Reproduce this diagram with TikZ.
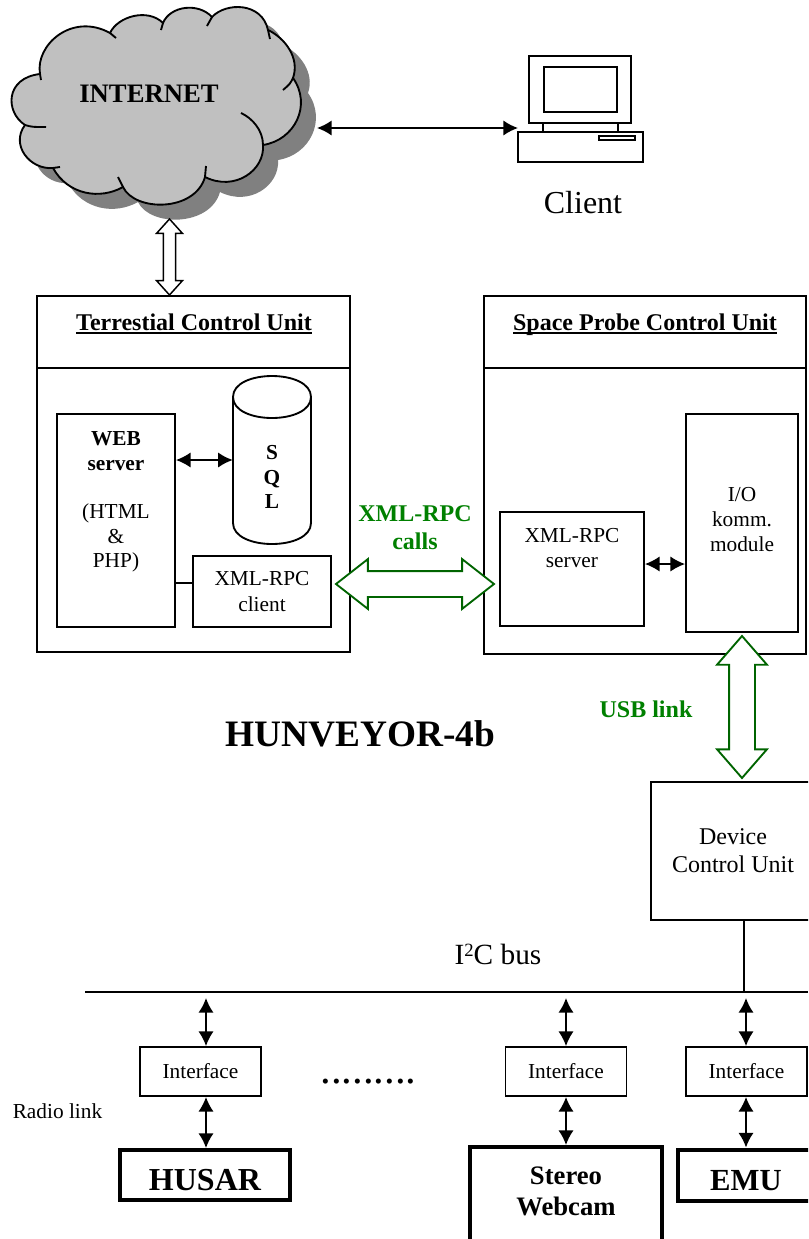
\documentclass[tikz,border=0pt]{standalone}
\usepackage{fontspec}
\setmainfont{Liberation Serif}
\usetikzlibrary{positioning,shapes.arrows,arrows.meta}
\definecolor{linkgreen}{RGB}{0,128,0}
\definecolor{arrowgreen}{RGB}{0,100,0}
\definecolor{cloudgray}{RGB}{192,192,192}
\definecolor{shadowgray}{RGB}{128,128,128}
\newcommand{\px}{.75pt}
\newcommand{\thickul}[1]{\setbox0\hbox{#1}\rlap{\raisebox{-3.3pt}{\rule{\wd0}{1.7pt}}}\box0}
\newcommand{\cloudoutline}{(40,74) .. controls (35,45) and (72,12) .. (110,33)
 .. controls (118,16) and (148,8) .. (163,23)
 .. controls (170,6) and (198,2) .. (212,17)
 .. controls (226,2) and (262,2) .. (268,30)
 .. controls (285,38) and (300,58) .. (293,78)
 .. controls (312,105) and (295,140) .. (263,145)
 .. controls (265,170) and (235,192) .. (205,177)
 .. controls (195,212) and (135,212) .. (123,187)
 .. controls (100,200) and (68,195) .. (53,168)
 .. controls (30,170) and (10,145) .. (25,125)
 .. controls (5,112) and (5,78) .. (40,74) -- cycle}
\begin{document}
\begin{tikzpicture}[x=.75pt,y=-.75pt,
box/.style 2 args={draw,line width=1.4pt,inner sep=0,align=center,
 minimum width=#1*\px,minimum height=#2*\px},
heavybox/.style 2 args={box={#1}{#2},line width=3pt},
txt/.style={inner sep=0,align=center,font=\fontsize{16pt}{18.6pt}\selectfont},
boldtxt/.style={txt,font=\fontsize{16pt}{18.4pt}\selectfont\bfseries},
headtxt/.style={txt,anchor=base,font=\fontsize{18pt}{21pt}\selectfont\bfseries},
greentxt/.style={txt,text=linkgreen,font=\fontsize{18pt}{21pt}\selectfont\bfseries},
link/.style={{Latex[length=11pt,width=11.5pt]}-{Latex[length=11pt,width=11.5pt]},line width=1.4pt},
bigarrow/.style={double arrow,draw=arrowgreen,fill=white,line width=1.4pt,inner xsep=0,
 inner ysep=9pt,outer sep=0,double arrow head extend=9pt,minimum width=48*\px}]
 \useasboundingbox (0,0) rectangle (808,1239);
 \clip (0,0) rectangle (808,1239);
 \fill[white] (0,0) rectangle (808,1239);
 \fill[shadowgray,shift={(15,15)}] \cloudoutline;
 \draw[fill=cloudgray,line width=1.4pt] \cloudoutline;
 \draw[line width=1.4pt] (40,74) -- (41,80) (110,33) -- (116,38) (163,23) -- (161,30)
 (212,17) -- (207,26) (268,30) -- (270,39) (293,78) .. controls (290,84) .. (283,90)
 (263,145) .. controls (263,130) and (252,118) .. (241,113)
 (205,177) -- (206,166) (123,187) -- (118,177) (53,168) -- (60,167)
 (25,125) .. controls (32,127) .. (46,127);
 \node[inner sep=0,anchor=base,font=\fontsize{20pt}{23pt}\selectfont\bfseries] (inet) at (149,102) {INTERNET};
 \coordinate (inetport) at (317,128);

 \node[box={102}{67}] (monitor) at (580,89.5) {};
 \node[box={73}{45}] (screen) at (580.5,89.5) {};
 \node[box={125}{30}] (pcbase) at (580.5,147) {};
 \node[box={36}{4},line width=1pt] (slot) at (617,138) {};
 \draw[line width=1.4pt] (monitor.south -| screen.west) -- (pcbase.north -| screen.west);
 \draw[line width=1.4pt] (monitor.south -| screen.east) -- (pcbase.north -| screen.east);
 \coordinate (pcport) at (518,128);
 \draw[link] (inetport) -- (pcport);
 \node[inner sep=0,anchor=base,font=\fontsize{24pt}{28pt}\selectfont] (client) at (583,213) {Client};

 \node[box={313}{356}] (tcu) at (193.5,474) {};
 \node[box={322}{358}] (spcu) at (645,475) {};
 \draw[line width=1.4pt] (tcu.west |- 0,368) coordinate (tcuL) -- (tcu.east |- tcuL);
 \draw[line width=1.4pt] (spcu.west |- 0,368) coordinate (spcuL) -- (spcu.east |- spcuL);
 \node[headtxt] (tcutitle) at (194,330) {\thickul{Terrestial Control Unit}};
 \node[headtxt] (spcutitle) at (645,330) {\thickul{Space Probe Control Unit}};
 \node[double arrow,draw,fill=white,line width=1.1pt,inner xsep=0,inner ysep=4pt,outer sep=0,
 double arrow head extend=5.2pt,double arrow tip angle=84,minimum width=25*\px,minimum height=76*\px,
 rotate=90] (inetlink) at (169.5,257) {};

 \node[box={118}{213}] (web) at (116,520.5) {};
 \node[boldtxt] (webtitle) at (116,451) {WEB\\server};
 \node[txt] (webtech) at (116,538) {(HTML\\\&\\PHP)};
 \node[minimum width=78*\px,minimum height=168*\px,inner sep=0] (sql) at (272,460) {};
 \draw[line width=1.4pt] (233,397) .. controls (233,369) and (311,369) .. (311,397)
 .. controls (311,425) and (233,425) .. (233,397) -- (233,523)
 .. controls (233,551) and (311,551) .. (311,523) -- (311,397);
 \node[boldtxt] (sqltxt) at (272,477) {S\\Q\\L};
 \node[box={138}{71},txt,font=\fontsize{16pt}{20pt}\selectfont] (rpcc) at (262,591.5) {XML-RPC\\client};
 \draw[link] (web.east |- sql.west) -- (sql.west);
 \draw[line width=1.4pt] (web.east |- 0,583) coordinate (webport) -- (rpcc.west |- webport);

 \node[box={144}{114}] (rpcs) at (572,569) {};
 \node[txt] (rpcstxt) at (572,548) {XML-RPC\\server};
 \node[box={112}{218}] (io) at (742,523) {};
 \node[txt] (iotxt) at (742,519.5) {I/O\\komm.\\module};
 \draw[link] (rpcs.east |- 0,564) coordinate (rpcsport) -- (io.west |- rpcsport);

 \node[bigarrow,double arrow tip angle=76,minimum height=158*\px] (xmllink) at (415,584) {};
 \node[greentxt] (xmltxt) at (415,528) {XML-RPC\\calls};
 \node[bigarrow,double arrow tip angle=82,minimum height=142*\px,rotate=90] (usblink) at (742,707) {};
 \node[greentxt,anchor=base] (usbtxt) at (646,717) {USB link};
 \node[inner sep=0,anchor=base,font=\fontsize{28pt}{32pt}\selectfont\bfseries] (title) at (360.5,746) {HUNVEYOR-4b};

 \node[box={164}{138},font=\fontsize{18pt}{21pt}\selectfont] (dcu) at (733,851) {Device\\Control Unit};
 \begin{scope}
 \clip (440,930) rectangle (560,964);
 \node[inner sep=0,anchor=base,font=\fontsize{22pt}{26pt}\selectfont] (bustxt) at (498,964) {I\raisebox{6pt}{\fontsize{14pt}{16pt}\selectfont 2}C bus};
 \end{scope}
 \coordinate (busL) at (85,992);
 \coordinate (busR) at (808,992);
 \draw[line width=1.5pt] (busL) -- (busR);
 \draw[line width=1.4pt] (744,920) coordinate (dcuport) -- (dcuport |- busL);

 \node[heavybox={170}{50}] (husar) at (205,1175) {};
 \node[inner sep=0,anchor=base,font=\fontsize{24pt}{28pt}\selectfont\bfseries] (husartxt) at (205,1190) {HUSAR};
 \node[heavybox={192}{100}] (webcam) at (566,1197) {};
 \node[inner sep=0,align=center,font=\fontsize{20pt}{23.2pt}\selectfont\bfseries] (webcamtxt) at (566,1191) {Stereo\\Webcam};
 \node[heavybox={136}{51}] (emu) at (746,1175) {};
 \node[inner sep=0,anchor=base,font=\fontsize{23pt}{28pt}\selectfont\bfseries] (emutxt) at (746,1190) {EMU};
 \foreach \X/\C/\P/\D in {a/200.5/206/husar,b/566/566/webcam,c/746.5/746/emu}
 {\node[box={121}{49},txt] (iface\X) at (\C,1071.5) {Interface};
 \coordinate (tap\X) at (\P,998);
 \draw[link] (tap\X) -- (tap\X |- iface\X.north);
 \draw[link] (tap\X |- iface\X.south) -- (tap\X |- \D.north);}
 \node[inner sep=0,anchor=base,font=\fontsize{32pt}{36pt}\selectfont] (dots) at (368.5,1083) {.........};
 \node[txt,anchor=base] (radio) at (57.5,1118) {Radio link};
\end{tikzpicture}
\end{document}
